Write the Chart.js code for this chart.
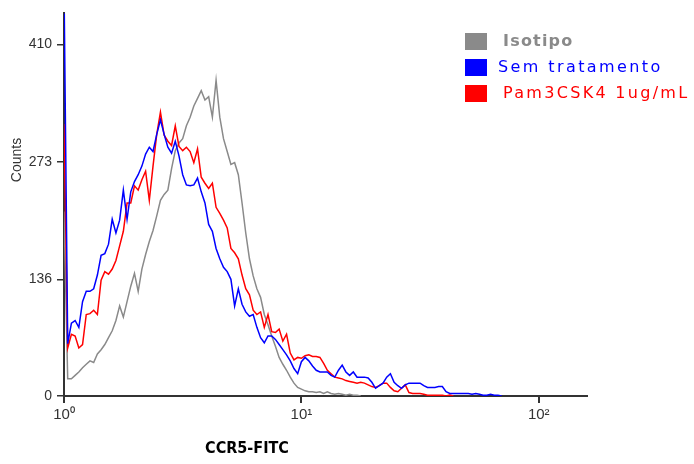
<!DOCTYPE html>
<html>
<head>
<meta charset="utf-8">
<script src="https://cdn.jsdelivr.net/npm/chart.js@4.4.1/dist/chart.umd.min.js"></script>
<style>
  html, body { margin: 0; padding: 0; background: #fff; }
  #wrap { width: 694px; height: 464px; }
</style>
</head>
<body>
<div id="wrap"><canvas id="histChart" width="694" height="464"></canvas></div>
<script>
// legend names and colours
const seriesNames = ["Isotipo", "Sem tratamento", "Pam3CSK4 1ug/mL"];
const seriesColors = ["#8a8a8a", "#0000ff", "#ff0000"];

// counts per channel (64 channels per decade, channel 0 = 10^0)
const isotipo = [215, 20, 20, 24, 28, 33, 37, 41, 39, 49,
  54, 60, 68, 76, 88, 105, 92, 110, 128, 143,
  122, 148, 165, 180, 193, 210, 228, 235, 240, 265,
  286, 295, 300, 315, 325, 338, 347, 356, 345, 349,
  325, 368, 325, 300, 285, 270, 272, 258, 225, 190,
  160, 140, 125, 115, 95, 83, 70, 58, 45, 37,
  30, 22, 15, 10, 8, 6, 5, 5, 4, 5,
  3, 5, 3, 2, 3, 2, 1, 2, 1, 1, 0];

const semTratamento = [480, 61, 85, 88, 80, 110, 122, 122, 125, 141,
  164, 166, 177, 206, 190, 205, 240, 206, 238, 250,
  258, 268, 282, 290, 285, 305, 322, 305, 290, 283,
  297, 280, 258, 246, 245, 246, 254, 238, 225, 200,
  192, 172, 160, 150, 145, 136, 105, 125, 107, 98,
  93, 95, 80, 68, 62, 70, 70, 66, 60, 54,
  48, 41, 32, 26, 40, 45, 41, 35, 30, 28,
  28, 28, 24, 22, 30, 36, 28, 24, 28, 22,
  22, 22, 21, 16, 9, 12, 15, 22, 26, 16,
  12, 9, 13, 15, 15, 15, 15, 12, 10, 10,
  10, 11, 11, 5, 3, 3, 3, 3, 3, 3,
  2, 3, 2, 1, 1, 2, 1, 1, 0];

const pam3csk4 = [317, 56, 72, 70, 56, 60, 95, 96, 100, 95,
  135, 145, 142, 148, 158, 175, 192, 225, 225, 245,
  240, 252, 262, 228, 268, 305, 331, 304, 297, 292,
  315, 291, 286, 290, 285, 272, 288, 255, 248, 242,
  248, 220, 213, 205, 196, 172, 167, 160, 141, 125,
  118, 100, 95, 98, 80, 95, 75, 74, 78, 64,
  72, 50, 42, 45, 44, 47, 48, 46, 46, 45,
  38, 30, 26, 22, 21, 20, 18, 17, 16, 15,
  16, 15, 13, 11, 10, 12, 15, 15, 10, 6,
  5, 9, 13, 4, 3, 3, 3, 2, 1, 1,
  1, 1, 1, 0, 1, 0];

// axis ticks
const xTickChannels = [0, 64, 128];
const xTickLabels = ["10\u2070", "10\u00b9", "10\u00b2"];
const yTicks = [0, 136, 273, 410];

const toPoints = arr => arr.map((v, i) => ({ x: i, y: v }));

// legend + axis titles drawn by hand
const extras = {
  id: "extras",
  afterDraw(chart) {
    const ctx = chart.ctx;
    ctx.save();
    const rows = [
      { y: 42, font: "bold 16px 'DejaVu Sans'", spacing: "1.2px", tx: 503 },
      { y: 68, font: "16px 'DejaVu Sans'", spacing: "2.4px", tx: 498 },
      { y: 94, font: "16px 'DejaVu Sans'", spacing: "2.3px", tx: 503 }
    ];
    rows.forEach((r, i) => {
      ctx.fillStyle = seriesColors[i];
      ctx.fillRect(465, r.y - 9, 22, 17);
      ctx.font = r.font;
      ctx.letterSpacing = r.spacing;
      ctx.textBaseline = "middle";
      ctx.textAlign = "left";
      ctx.fillText(seriesNames[i], r.tx, r.y);
    });
    ctx.letterSpacing = "0px";

    // y title
    ctx.fillStyle = "#333";
    ctx.font = "14px 'Liberation Sans', Arial, sans-serif";
    ctx.translate(17, 160);
    ctx.rotate(-Math.PI / 2);
    ctx.textAlign = "center";
    ctx.textBaseline = "middle";
    ctx.fillText("Counts", 0, 0);
    ctx.restore();

    // x title
    ctx.save();
    ctx.fillStyle = "#000";
    ctx.font = "bold 16px 'Liberation Sans Narrow', 'DejaVu Sans Condensed', sans-serif";
    ctx.textAlign = "center";
    ctx.textBaseline = "middle";
    ctx.fillText("CCR5-FITC", 247, 449);
    ctx.restore();
  }
};

new Chart(document.getElementById("histChart"), {
  type: "line",
  data: {
    datasets: [
      { label: seriesNames[0], data: toPoints(isotipo), borderColor: seriesColors[0], order: 3 },
      { label: seriesNames[1], data: toPoints(semTratamento), borderColor: seriesColors[1], order: 1 },
      { label: seriesNames[2], data: toPoints(pam3csk4), borderColor: seriesColors[2], order: 2 }
    ]
  },
  options: {
    responsive: false,
    animation: false,
    devicePixelRatio: 1,
    elements: {
      line: { borderWidth: 1.5, tension: 0, fill: false },
      point: { radius: 0 }
    },
    layout: { padding: { top: 8, right: 107, left: 0, bottom: 0 } },
    plugins: { legend: { display: false }, tooltip: { enabled: false } },
    scales: {
      x: {
        type: "linear",
        min: 0,
        max: 141,
        afterFit(scale) { scale.height = 68; },
        afterBuildTicks(scale) { scale.ticks = xTickChannels.map(v => ({ value: v })); },
        grid: { drawOnChartArea: false, color: "#333", tickLength: 7, lineWidth: 2 },
        border: { color: "#333", width: 2 },
        ticks: {
          padding: 3,
          color: "#333",
          font: { family: "'Liberation Sans', Arial, sans-serif", size: 15 },
          maxRotation: 0,
          callback: (v) => xTickLabels[xTickChannels.indexOf(v)]
        }
      },
      y: {
        min: 0,
        max: 446,
        afterFit(scale) { scale.width = 64; },
        afterBuildTicks(scale) { scale.ticks = yTicks.map(v => ({ value: v })); },
        grid: { drawOnChartArea: false, color: "#333", tickLength: 7, lineWidth: 1.5 },
        border: { color: "#333", width: 2 },
        ticks: {
          padding: 5,
          color: "#333",
          font: { family: "'Liberation Sans', Arial, sans-serif", size: 14 },
          callback: (v) => String(v)
        }
      }
    }
  },
  plugins: [extras]
});
</script>
</body>
</html>
